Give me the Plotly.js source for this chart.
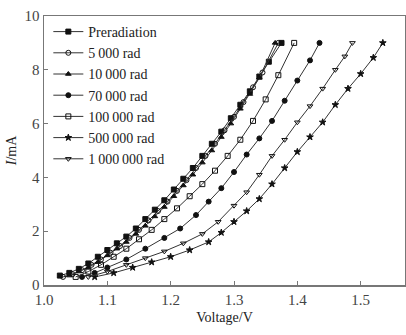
<!DOCTYPE html>
<html>
<head>
<meta charset="utf-8">
<script src="https://cdn.plot.ly/plotly-3.0.1.min.js"></script>
<style>html,body{margin:0;padding:0;background:#fff;}#chart{width:406px;height:335px;}</style>
</head>
<body>
<div id="chart"></div>
<script>
var seriesNames = ["Preradiation", "5\u2009000 rad", "10\u2009000 rad", "70\u2009000 rad", "100\u2009000 rad", "500\u2009000 rad", "1\u2009000\u2009000 rad"];
var markerSymbols = ["square", "circle-open", "triangle-up", "circle", "square-open", "star", "triangle-down-open"];

var v0 = [1.025,1.04,1.055,1.07,1.085,1.10,1.115,1.13,1.145,1.16,1.175,1.19,1.205,1.22,1.235,1.25,1.265,1.28,1.295,1.31,1.325,1.34,1.355,1.375];
var i0 = [0.35,0.45,0.6,0.8,1.05,1.3,1.55,1.8,2.1,2.45,2.8,3.15,3.55,3.95,4.35,4.8,5.25,5.7,6.2,6.7,7.2,7.75,8.3,9.0];

var v1 = [1.03,1.045,1.06,1.075,1.09,1.105,1.12,1.135,1.15,1.165,1.18,1.195,1.21,1.225,1.24,1.255,1.27,1.285,1.30,1.315,1.33,1.345,1.37];
var i1 = [0.3,0.4,0.55,0.75,0.95,1.2,1.45,1.75,2.05,2.4,2.75,3.1,3.5,3.9,4.35,4.8,5.25,5.75,6.25,6.8,7.35,7.9,9.0];

var v2 = [1.04,1.055,1.07,1.085,1.10,1.115,1.13,1.145,1.16,1.175,1.19,1.205,1.22,1.235,1.25,1.265,1.28,1.295,1.31,1.325,1.34,1.365];
var i2 = [0.35,0.5,0.65,0.85,1.1,1.35,1.6,1.9,2.2,2.55,2.9,3.3,3.7,4.1,4.55,5.0,5.5,6.0,6.55,7.1,7.7,9.0];

var v3 = [1.06,1.08,1.10,1.13,1.16,1.19,1.215,1.24,1.26,1.28,1.30,1.32,1.34,1.36,1.38,1.40,1.42,1.435];
var i3 = [0.3,0.45,0.65,0.95,1.35,1.75,2.1,2.6,3.1,3.6,4.2,4.85,5.45,6.1,6.85,7.6,8.35,9.0];

var v4 = [1.05,1.07,1.09,1.11,1.13,1.15,1.17,1.19,1.21,1.23,1.25,1.27,1.29,1.31,1.33,1.35,1.37,1.395];
var i4 = [0.3,0.5,0.75,1.05,1.35,1.7,2.05,2.45,2.85,3.3,3.75,4.25,4.8,5.4,6.1,6.9,7.8,9.0];

var v5 = [1.08,1.11,1.14,1.17,1.20,1.23,1.26,1.28,1.30,1.32,1.34,1.36,1.38,1.40,1.42,1.44,1.46,1.48,1.50,1.52,1.535];
var i5 = [0.3,0.45,0.65,0.85,1.05,1.3,1.6,1.95,2.35,2.75,3.2,3.75,4.35,4.95,5.5,6.05,6.7,7.3,7.85,8.45,9.0];

var v6 = [1.07,1.10,1.13,1.16,1.19,1.22,1.25,1.275,1.30,1.32,1.34,1.36,1.38,1.40,1.42,1.44,1.46,1.475,1.487];
var i6 = [0.3,0.5,0.75,1.0,1.25,1.55,1.9,2.35,2.95,3.45,4.1,4.8,5.4,6.05,6.65,7.3,8.0,8.5,9.0];

var xs = [v0, v1, v2, v3, v4, v5, v6];
var ys = [i0, i1, i2, i3, i4, i5, i6];

var xTicks = [1.0, 1.1, 1.2, 1.3, 1.4, 1.5];
var xTickText = ["1.0", "1.1", "1.2", "1.3", "1.4", "1.5"];
var yTicks = [0, 2, 4, 6, 8, 10];

var traces = seriesNames.map(function (n, k) {
  return {
    x: xs[k], y: ys[k], name: n, type: "scatter", mode: "lines+markers",
    line: {color: "#333", width: 1},
    marker: {symbol: markerSymbols[k], size: 5, color: "#111", line: {color: "#111", width: 1}}
  };
});

var fam = "Liberation Serif, Times New Roman, serif";
var layout = {
  width: 406, height: 335,
  margin: {l: 44, r: 1, t: 16, b: 50},
  paper_bgcolor: "#fff", plot_bgcolor: "#fff",
  showlegend: true,
  legend: {x: 0.012, y: 1.0, xanchor: "left", yanchor: "top", bgcolor: "rgba(0,0,0,0)",
    font: {family: fam, size: 14, color: "#222"}, tracegroupgap: 0, itemwidth: 30},
  xaxis: {range: [1.0, 1.57], tickvals: xTicks, ticktext: xTickText, ticks: "inside", ticklen: 4,
    tickcolor: "#777", showline: true, linecolor: "#777", linewidth: 1.5, mirror: true,
    showgrid: false, zeroline: false, tickfont: {family: fam, size: 15, color: "#444"},
    title: {text: "Voltage/V", font: {family: fam, size: 14, color: "#222"}, standoff: 5}},
  yaxis: {range: [0, 10], tickvals: yTicks, ticks: "inside", ticklen: 4, tickcolor: "#777",
    showline: true, linecolor: "#777", linewidth: 1.5, mirror: true, showgrid: false, zeroline: false,
    tickfont: {family: fam, size: 15, color: "#444"},
    title: {text: "<i>I</i>/mA", font: {family: fam, size: 14, color: "#222"}, standoff: 4}}
};
Plotly.newPlot("chart", traces, layout, {displayModeBar: false, staticPlot: true});
</script>
</body>
</html>
